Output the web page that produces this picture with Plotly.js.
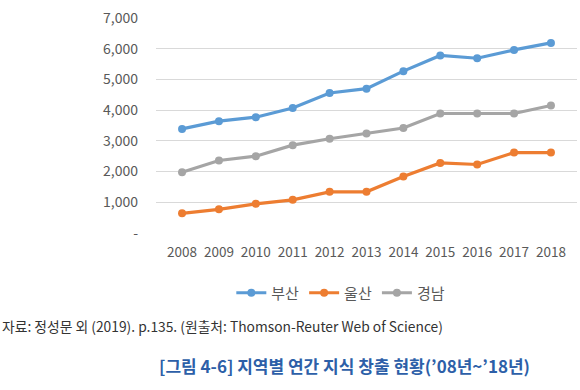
<!DOCTYPE html>
<html><head><meta charset="utf-8">
<script src="https://cdn.plot.ly/plotly-3.0.1.min.js"></script>
<style>html,body{margin:0;padding:0;background:#fff;}#chart{width:580px;height:390px;}</style>
</head><body><div id="chart"></div>
<script>
const years = ['2008','2009','2010','2011','2012','2013','2014','2015','2016','2017','2018'];
const busan = [3390, 3640, 3770, 4070, 4560, 4700, 5270, 5780, 5690, 5960, 6190];
const ulsan = [640, 770, 950, 1080, 1340, 1340, 1840, 2280, 2230, 2620, 2620];
const gyeongnam = [1980, 2360, 2500, 2860, 3070, 3240, 3420, 3890, 3890, 3890, 4150];
const seriesNames = ['부산', '울산', '경남'];
const yTickVals = [0, 1000, 2000, 3000, 4000, 5000, 6000, 7000];
const yTickText = ['-', '1,000', '2,000', '3,000', '4,000', '5,000', '6,000', '7,000'];
const sourceText = '자료: 정성문 외 (2019). p.135. (원출처: Thomson-Reuter Web of Science)';
const figTitle = '[그림 4-6] 지역별 연간 지식 창출 현황(’08년~’18년)';

const colors = ['#5B9BD5', '#ED7D31', '#A5A5A5'];
const font = '"Noto Sans CJK KR", "Noto Sans", sans-serif';
function tr(y, i) {
  return {x: years, y: y, name: seriesNames[i], type: 'scatter', mode: 'lines+markers',
    line: {color: colors[i], width: 3.2}, marker: {color: colors[i], size: 8}};
}
const data = [tr(busan, 0), tr(ulsan, 1), tr(gyeongnam, 2)];
const layout = {
  width: 580, height: 390,
  margin: {l: 156, r: 3, t: 18, b: 157},
  paper_bgcolor: '#fff', plot_bgcolor: '#fff',
  font: {family: font, size: 12, color: '#595959'},
  showlegend: true,
  legend: {orientation: 'h', x: 0.439, xanchor: 'center', y: -0.279, yanchor: 'middle',
    font: {size: 15, color: '#595959'}, itemwidth: 30, traceorder: 'normal'},
  xaxis: {type: 'category', showgrid: false, zeroline: false, showline: false,
    ticks: '', tickfont: {size: 13.5, color: '#595959'}, ticklabelstandoff: 9},
  yaxis: {range: [0, 7000], tickvals: yTickVals, ticktext: yTickText,
    showgrid: true, gridcolor: '#D9D9D9', gridwidth: 1, zeroline: false, showline: false,
    ticks: '', tickfont: {size: 14, color: '#595959'}, ticklabelstandoff: 17},
  annotations: [
    {text: sourceText, xref: 'paper', yref: 'paper', x: -0.3705, y: -0.4326,
      xanchor: 'left', yanchor: 'middle', showarrow: false,
      font: {family: font, size: 13.8, color: '#333333'}},
    {text: figTitle, xref: 'paper', yref: 'paper', x: 0.4466, y: -0.614,
      xanchor: 'center', yanchor: 'middle', showarrow: false,
      font: {family: font, size: 17, color: '#2D5FA8', weight: 600}}
  ]
};
Plotly.newPlot('chart', data, layout, {displayModeBar: false, staticPlot: true});
</script></body></html>
